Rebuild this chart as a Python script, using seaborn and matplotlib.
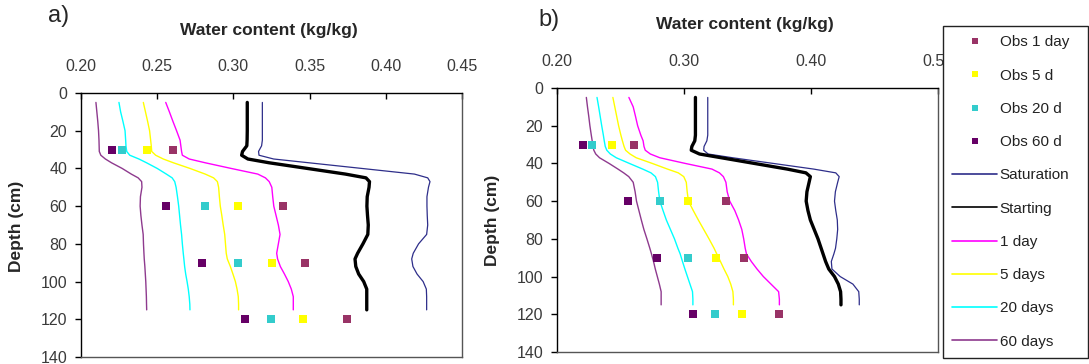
import numpy as np
import pandas as pd
import matplotlib
matplotlib.use("Agg")
import matplotlib.pyplot as plt
from matplotlib.lines import Line2D
from matplotlib.ticker import FormatStrFormatter
import seaborn as sns

# ---------------- data ----------------
depth = [5, 10, 15, 20, 25, 28, 31, 33, 35, 37, 40, 43, 45, 47, 50, 55, 60, 65, 70,
         75, 80, 85, 88, 92, 96, 100, 104, 108, 112, 115]

# panel a) simulated profiles
a_saturation = [0.3190, 0.3190, 0.3190, 0.3190, 0.3190, 0.3185, 0.3165, 0.3168, 0.3264, 0.3495,
                0.3842, 0.4188, 0.4275, 0.4290, 0.4280, 0.4270, 0.4270, 0.4272, 0.4275, 0.4268,
                0.4215, 0.4180, 0.4170, 0.4178, 0.4205, 0.4245, 0.4266, 0.4268, 0.4268, 0.4268]
a_starting = [0.3091, 0.3091, 0.3091, 0.3091, 0.3090, 0.3088, 0.3060, 0.3054, 0.3095, 0.3234,
              0.3485, 0.3735, 0.3870, 0.3893, 0.3890, 0.3878, 0.3876, 0.3880, 0.3885, 0.3882,
              0.3850, 0.3815, 0.3798, 0.3803, 0.3822, 0.3855, 0.3875, 0.3875, 0.3875, 0.3875]
a_1day = [0.2556, 0.2580, 0.2603, 0.2627, 0.2650, 0.2655, 0.2660, 0.2665, 0.2710, 0.2815,
          0.2985, 0.3160, 0.3210, 0.3235, 0.3252, 0.3258, 0.3265, 0.3280, 0.3295, 0.3306,
          0.3295, 0.3284, 0.3290, 0.3308, 0.3335, 0.3360, 0.3380, 0.3393, 0.3393, 0.3393]
a_5days = [0.2409, 0.2423, 0.2437, 0.2450, 0.2457, 0.2461, 0.2464, 0.2490, 0.2540, 0.2606,
           0.2715, 0.2815, 0.2870, 0.2895, 0.2903, 0.2908, 0.2914, 0.2924, 0.2933, 0.2943,
           0.2948, 0.2953, 0.2960, 0.2980, 0.2997, 0.3013, 0.3024, 0.3032, 0.3034, 0.3034]
a_20days = [0.2249, 0.2260, 0.2275, 0.2289, 0.2293, 0.2295, 0.2300, 0.2320, 0.2380, 0.2430,
            0.2500, 0.2560, 0.2598, 0.2615, 0.2624, 0.2633, 0.2641, 0.2647, 0.2653, 0.2660,
            0.2665, 0.2671, 0.2675, 0.2680, 0.2687, 0.2696, 0.2704, 0.2710, 0.2714, 0.2715]
a_60days = [0.2098, 0.2104, 0.2110, 0.2115, 0.2118, 0.2119, 0.2120, 0.2130, 0.2160, 0.2200,
            0.2270, 0.2330, 0.2375, 0.2398, 0.2400, 0.2390, 0.2388, 0.2393, 0.2400, 0.2408,
            0.2410, 0.2413, 0.2415, 0.2419, 0.2422, 0.2425, 0.2427, 0.2429, 0.2430, 0.2431]

# panel b) simulated profiles
b_saturation = [0.3187, 0.3187, 0.3187, 0.3187, 0.3187, 0.3180, 0.3158, 0.3155, 0.3190, 0.3384,
                0.3703, 0.4021, 0.4195, 0.4222, 0.4210, 0.4192, 0.4185, 0.4195, 0.4207, 0.4210,
                0.4203, 0.4193, 0.4180, 0.4160, 0.4165, 0.4230, 0.4330, 0.4376, 0.4380, 0.4380]
b_starting = [0.3090, 0.3090, 0.3090, 0.3090, 0.3090, 0.3085, 0.3062, 0.3057, 0.3122, 0.3295,
              0.3554, 0.3813, 0.3960, 0.3995, 0.3985, 0.3968, 0.3962, 0.3976, 0.3995, 0.4025,
              0.4055, 0.4080, 0.4095, 0.4115, 0.4140, 0.4185, 0.4215, 0.4233, 0.4236, 0.4236]
b_1day = [0.2566, 0.2600, 0.2618, 0.2635, 0.2660, 0.2678, 0.2685, 0.2695, 0.2735, 0.2810,
          0.3010, 0.3220, 0.3279, 0.3310, 0.3330, 0.3340, 0.3360, 0.3400, 0.3430, 0.3455,
          0.3470, 0.3482, 0.3492, 0.3530, 0.3575, 0.3625, 0.3685, 0.3745, 0.3751, 0.3751]
b_5days = [0.2440, 0.2455, 0.2470, 0.2485, 0.2503, 0.2515, 0.2528, 0.2540, 0.2575, 0.2624,
           0.2750, 0.2870, 0.2955, 0.2998, 0.3018, 0.3025, 0.3035, 0.3073, 0.3113, 0.3155,
           0.3197, 0.3237, 0.3258, 0.3287, 0.3315, 0.3345, 0.3368, 0.3385, 0.3389, 0.3389]
b_20days = [0.2315, 0.2328, 0.2340, 0.2352, 0.2365, 0.2372, 0.2380, 0.2392, 0.2420, 0.2467,
            0.2570, 0.2675, 0.2740, 0.2775, 0.2792, 0.2800, 0.2810, 0.2835, 0.2861, 0.2893,
            0.2925, 0.2952, 0.2970, 0.2988, 0.3007, 0.3027, 0.3047, 0.3067, 0.3070, 0.3070]
b_60days = [0.2231, 0.2240, 0.2250, 0.2259, 0.2270, 0.2277, 0.2283, 0.2290, 0.2305, 0.2335,
            0.2410, 0.2480, 0.2525, 0.2565, 0.2600, 0.2615, 0.2626, 0.2645, 0.2664, 0.2684,
            0.2708, 0.2731, 0.2744, 0.2760, 0.2774, 0.2790, 0.2806, 0.2820, 0.2820, 0.2820]

# observations (same in both panels)
obs_depth = [30, 60, 90, 120]
obs_1day = [0.2604, 0.3327, 0.3470, 0.3747]
obs_5d = [0.2434, 0.3029, 0.3254, 0.3457]
obs_20d = [0.2272, 0.2814, 0.3028, 0.3244]
obs_60d = [0.2203, 0.2560, 0.2791, 0.3073]

a_xticks = [0.20, 0.25, 0.30, 0.35, 0.40, 0.45]
b_xticks = [0.20, 0.30, 0.40, 0.50]
y_ticks = [0, 20, 40, 60, 80, 100, 120, 140]

line_names = ["Saturation", "Starting", "1 day", "5 days", "20 days", "60 days"]
obs_names = ["Obs 1 day", "Obs 5 d", "Obs 20 d", "Obs 60 d"]

# ---------------- style ----------------
sns.set_style("white")
plt.rcParams["font.family"] = ["Liberation Sans", "DejaVu Sans"]

line_colors = ["#2E2E8A", "#000000", "#FF00FF", "#FFFF00", "#00FFFF", "#8E3A8E"]
line_widths = [0.9, 2.4, 1.0, 1.0, 1.0, 1.0]
obs_colors = ["#993366", "#FFFF00", "#33CCCC", "#660066"]

W, H = 1089, 364
fig = plt.figure(figsize=(W / 100, H / 100), dpi=100)


def px_axes(x0, x1, y0, y1):
    return fig.add_axes([x0 / W, 1 - y1 / H, (x1 - x0) / W, (y1 - y0) / H])


ax_a = px_axes(81, 462, 93, 357)
ax_b = px_axes(557, 938, 88, 352)

panels = [
    (ax_a, [a_saturation, a_starting, a_1day, a_5days, a_20days, a_60days], a_xticks, (0.20, 0.45)),
    (ax_b, [b_saturation, b_starting, b_1day, b_5days, b_20days, b_60days], b_xticks, (0.20, 0.50)),
]
obs_all = [obs_1day, obs_5d, obs_20d, obs_60d]

for ax, curves, xt, xl in panels:
    for vals, name, c, lw in zip(curves, line_names, line_colors, line_widths):
        df = pd.DataFrame({"wc": vals, "depth": depth})
        sns.lineplot(data=df, x="wc", y="depth", orient="y", sort=False, estimator=None,
                     color=c, linewidth=lw, ax=ax)
    for vals, name, c in zip(obs_all, obs_names, obs_colors):
        df = pd.DataFrame({"wc": vals, "depth": obs_depth})
        sns.scatterplot(data=df, x="wc", y="depth", marker="s", color=c, s=30,
                        linewidth=0, ax=ax, zorder=3)
    ax.set_xlim(*xl)
    ax.set_ylim(140, 0)
    ax.set_xticks(xt)
    ax.set_yticks(y_ticks)
    ax.xaxis.set_major_formatter(FormatStrFormatter("%.2f"))
    ax.xaxis.tick_top()
    ax.set_xlabel("")
    ax.set_ylabel("")
    ax.tick_params(axis="x", which="both", top=True, bottom=False, direction="in", length=4,
                   width=1, color="#000000", pad=14, labelsize=11.5, labelcolor="#3a3a3a")
    ax.tick_params(axis="y", which="both", left=True, direction="out", length=4, width=1,
                   color="#000000", pad=6, labelsize=11.5, labelcolor="#3a3a3a")
    for s in ["top", "left"]:
        ax.spines[s].set_color("#000000")
        ax.spines[s].set_linewidth(1.0)
    for s in ["right", "bottom"]:
        ax.spines[s].set_color("#555555")
        ax.spines[s].set_linewidth(1.0)
    ax.spines["right"].set_visible(True)
    ax.spines["bottom"].set_visible(True)

# panel texts
fig.text(48 / W, 1 - 16 / H, "a)", fontsize=17, va="center", ha="left")
fig.text(538 / W, 1 - 20 / H, "b)", fontsize=17, va="center", ha="left")
fig.text(269 / W, 1 - 30 / H, "Water content (kg/kg)", fontsize=12.5, fontweight="bold",
         ha="center", va="center")
fig.text(745 / W, 1 - 25 / H, "Water content (kg/kg)", fontsize=12.5, fontweight="bold",
         ha="center", va="center")
fig.text(17 / W, 1 - 226 / H, "Depth (cm)", fontsize=12.5, fontweight="bold",
         ha="center", va="center", rotation=90)
fig.text(493 / W, 1 - 220 / H, "Depth (cm)", fontsize=12.5, fontweight="bold",
         ha="center", va="center", rotation=90)

# legend
handles = []
labels = []
for name, c in zip(obs_names, obs_colors):
    handles.append(Line2D([], [], linestyle="none", marker="s", markersize=5,
                          markerfacecolor=c, markeredgewidth=0))
    labels.append(name)
for name, c in zip(line_names, line_colors):
    handles.append(Line2D([], [], color=c, linewidth=1.2))
    labels.append(name)

leg = fig.legend(handles, labels, loc="upper left",
                 bbox_to_anchor=(943 / W, 1 - 348 / H, 145 / W, 322 / H),
                 mode="expand", borderaxespad=0, fontsize=11, frameon=True,
                 fancybox=False, shadow=False, framealpha=1, edgecolor="#222222",
                 handlelength=2.9, handletextpad=0.2, labelspacing=1.26, borderpad=0.62)
leg.get_frame().set_linewidth(1.0)
for t in leg.get_texts():
    t.set_color("#222222")

fig.savefig("out.png", dpi=100)
